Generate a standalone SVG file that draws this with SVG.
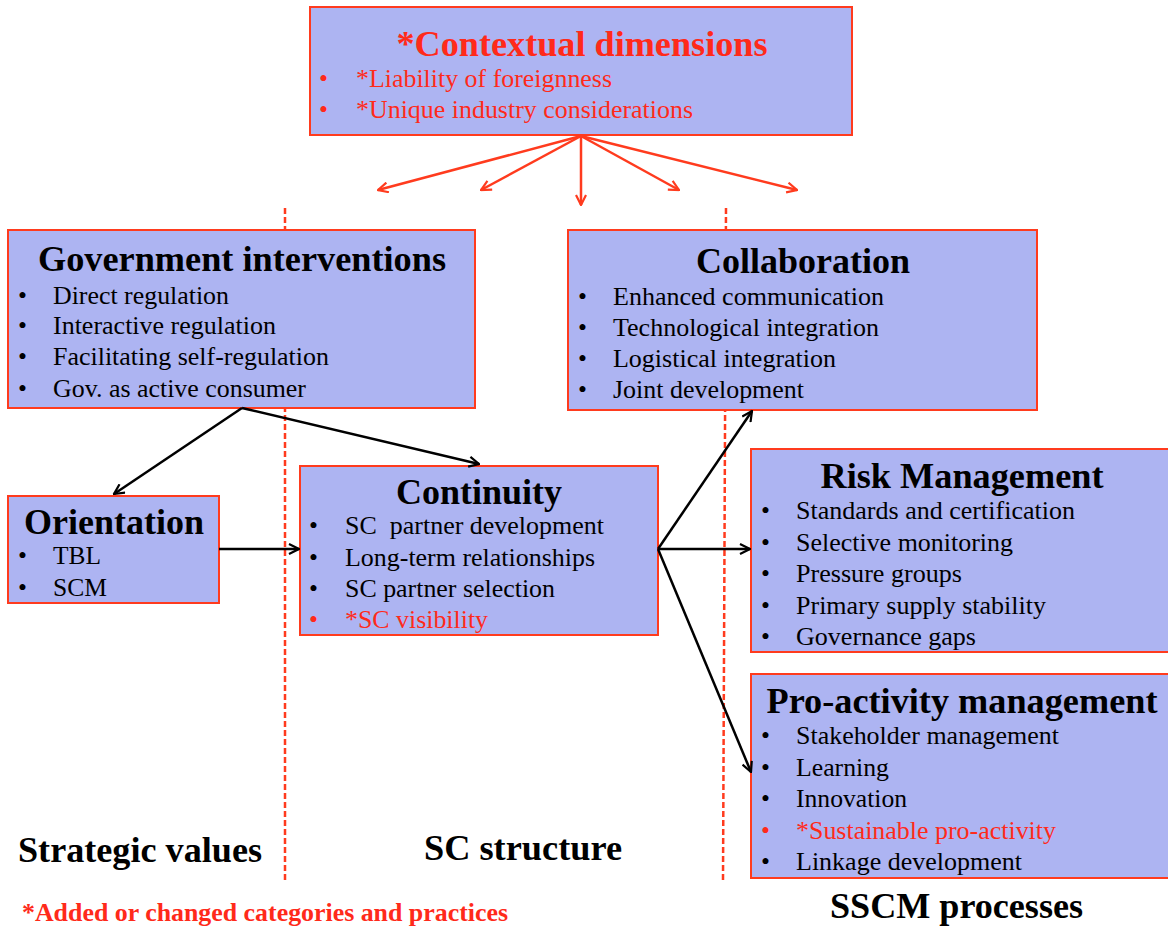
<svg xmlns="http://www.w3.org/2000/svg" width="1168" height="928" viewBox="0 0 1168 928">
<style>
.box{fill:#adb4f2;stroke:#ff3b1e;stroke-width:2}
.t{font-family:"Liberation Serif","Times New Roman",serif;font-weight:bold;font-size:36px;text-anchor:middle;fill:#000}
.b{font-family:"Liberation Serif","Times New Roman",serif;font-size:25.5px;fill:#000}
.lab{font-family:"Liberation Serif","Times New Roman",serif;font-weight:bold;font-size:36px;fill:#000}
.r{fill:#ff2a1a}
.dash{stroke:#ff3b1e;stroke-width:2.5;stroke-dasharray:6,3;fill:none}
.ra{stroke:#ff3b1e;stroke-width:2.5;fill:none;marker-end:url(#mr)}
.ka{stroke:#000;stroke-width:2.5;fill:none;marker-end:url(#mk)}
</style>
<defs>
<marker id="mr" viewBox="0 0 12 12" refX="11" refY="6" markerWidth="12" markerHeight="12" markerUnits="userSpaceOnUse" orient="auto"><path d="M1,1 L11,6 L1,11" fill="none" stroke="#ff3b1e" stroke-width="2.2"/></marker>
<marker id="mk" viewBox="0 0 12 12" refX="11" refY="6" markerWidth="12" markerHeight="12" markerUnits="userSpaceOnUse" orient="auto"><path d="M1,1 L11,6 L1,11" fill="none" stroke="#000" stroke-width="2.2"/></marker>
</defs>
<rect width="1168" height="928" fill="#fff"/>

<g id="dividers">
<line class="dash" x1="285" y1="208" x2="285" y2="880"/>
<line class="dash" x1="726" y1="208" x2="723" y2="880"/>
</g>

<g id="context">
<rect class="box" x="310" y="7" width="542" height="128"/>
<text class="t r" x="582" y="56" textLength="371" lengthAdjust="spacingAndGlyphs">*Contextual dimensions</text>
<text class="b r" x="319" y="87">•</text><text class="b r" x="356" y="87" textLength="256" lengthAdjust="spacingAndGlyphs">*Liability of foreignness</text>
<text class="b r" x="319" y="118">•</text><text class="b r" x="356" y="118" textLength="337" lengthAdjust="spacingAndGlyphs">*Unique industry considerations</text>
</g>

<g id="government">
<rect class="box" x="8" y="230" width="467" height="178"/>
<text class="t" x="242" y="271" textLength="408" lengthAdjust="spacingAndGlyphs">Government interventions</text>
<text class="b" x="18" y="304">•</text><text class="b" x="53" y="304" textLength="176" lengthAdjust="spacingAndGlyphs">Direct regulation</text>
<text class="b" x="18" y="334">•</text><text class="b" x="53" y="334" textLength="223" lengthAdjust="spacingAndGlyphs">Interactive regulation</text>
<text class="b" x="18" y="365">•</text><text class="b" x="53" y="365" textLength="276" lengthAdjust="spacingAndGlyphs">Facilitating self-regulation</text>
<text class="b" x="18" y="397">•</text><text class="b" x="53" y="397" textLength="253" lengthAdjust="spacingAndGlyphs">Gov. as active consumer</text>
</g>

<g id="collaboration">
<rect class="box" x="568" y="230" width="469" height="180"/>
<text class="t" x="803" y="273" textLength="214" lengthAdjust="spacingAndGlyphs">Collaboration</text>
<text class="b" x="578" y="305">•</text><text class="b" x="613" y="305" textLength="271" lengthAdjust="spacingAndGlyphs">Enhanced communication</text>
<text class="b" x="578" y="336">•</text><text class="b" x="613" y="336" textLength="266" lengthAdjust="spacingAndGlyphs">Technological integration</text>
<text class="b" x="578" y="367">•</text><text class="b" x="613" y="367" textLength="223" lengthAdjust="spacingAndGlyphs">Logistical integration</text>
<text class="b" x="578" y="398">•</text><text class="b" x="613" y="398" textLength="191" lengthAdjust="spacingAndGlyphs">Joint development</text>
</g>

<g id="orientation">
<rect class="box" x="8" y="496" width="211" height="107"/>
<text class="t" x="114" y="534" textLength="180" lengthAdjust="spacingAndGlyphs">Orientation</text>
<text class="b" x="18" y="564">•</text><text class="b" x="53" y="564" textLength="48" lengthAdjust="spacingAndGlyphs">TBL</text>
<text class="b" x="18" y="596">•</text><text class="b" x="53" y="596" textLength="54" lengthAdjust="spacingAndGlyphs">SCM</text>
</g>

<g id="continuity">
<rect class="box" x="300" y="466" width="358" height="169"/>
<text class="t" x="479" y="504" textLength="166" lengthAdjust="spacingAndGlyphs">Continuity</text>
<text class="b" x="309" y="534">•</text><text class="b" x="345" y="534" textLength="259" lengthAdjust="spacingAndGlyphs" xml:space="preserve">SC  partner development</text>
<text class="b" x="309" y="566">•</text><text class="b" x="345" y="566" textLength="250" lengthAdjust="spacingAndGlyphs">Long-term relationships</text>
<text class="b" x="309" y="597">•</text><text class="b" x="345" y="597" textLength="210" lengthAdjust="spacingAndGlyphs">SC partner selection</text>
<text class="b r" x="309" y="628">•</text><text class="b r" x="345" y="628" textLength="143" lengthAdjust="spacingAndGlyphs">*SC visibility</text>
</g>

<g id="risk">
<rect class="box" x="751" y="449" width="420" height="203"/>
<text class="t" x="962" y="488" textLength="283" lengthAdjust="spacingAndGlyphs">Risk Management</text>
<text class="b" x="761" y="519">•</text><text class="b" x="796" y="519" textLength="279" lengthAdjust="spacingAndGlyphs">Standards and certification</text>
<text class="b" x="761" y="551">•</text><text class="b" x="796" y="551" textLength="217" lengthAdjust="spacingAndGlyphs">Selective monitoring</text>
<text class="b" x="761" y="582">•</text><text class="b" x="796" y="582" textLength="166" lengthAdjust="spacingAndGlyphs">Pressure groups</text>
<text class="b" x="761" y="614">•</text><text class="b" x="796" y="614" textLength="250" lengthAdjust="spacingAndGlyphs">Primary supply stability</text>
<text class="b" x="761" y="645">•</text><text class="b" x="796" y="645" textLength="180" lengthAdjust="spacingAndGlyphs">Governance gaps</text>
</g>

<g id="proactivity">
<rect class="box" x="751" y="674" width="420" height="204"/>
<text class="t" x="962" y="713" textLength="391" lengthAdjust="spacingAndGlyphs">Pro-activity management</text>
<text class="b" x="761" y="744">•</text><text class="b" x="796" y="744" textLength="263" lengthAdjust="spacingAndGlyphs">Stakeholder management</text>
<text class="b" x="761" y="776">•</text><text class="b" x="796" y="776" textLength="93" lengthAdjust="spacingAndGlyphs">Learning</text>
<text class="b" x="761" y="807">•</text><text class="b" x="796" y="807" textLength="111" lengthAdjust="spacingAndGlyphs">Innovation</text>
<text class="b r" x="761" y="839">•</text><text class="b r" x="796" y="839" textLength="260" lengthAdjust="spacingAndGlyphs">*Sustainable pro-activity</text>
<text class="b" x="761" y="870">•</text><text class="b" x="796" y="870" textLength="226" lengthAdjust="spacingAndGlyphs">Linkage development</text>
</g>

<g id="connectors">
<line class="ra" x1="581" y1="136" x2="378" y2="190"/>
<line class="ra" x1="581" y1="136" x2="481" y2="190"/>
<line class="ra" x1="581" y1="136" x2="581" y2="205"/>
<line class="ra" x1="581" y1="136" x2="679" y2="190"/>
<line class="ra" x1="581" y1="136" x2="797" y2="190"/>
<line class="ka" x1="242" y1="408" x2="114" y2="494"/>
<line class="ka" x1="242" y1="408" x2="479" y2="464"/>
<line class="ka" x1="219" y1="549" x2="299" y2="549"/>
<line class="ka" x1="658" y1="549" x2="752" y2="411"/>
<line class="ka" x1="658" y1="549" x2="750" y2="549"/>
<line class="ka" x1="658" y1="549" x2="751" y2="772"/>
</g>

<g id="labels">
<text class="lab" x="18" y="862" textLength="244" lengthAdjust="spacingAndGlyphs">Strategic values</text>
<text class="lab" x="424" y="860" textLength="198" lengthAdjust="spacingAndGlyphs">SC structure</text>
<text class="lab" x="830" y="918" textLength="253" lengthAdjust="spacingAndGlyphs">SSCM processes</text>
<text class="lab r" x="22" y="921" style="font-size:25px" textLength="486" lengthAdjust="spacingAndGlyphs">*Added or changed categories and practices</text>
</g>
</svg>
